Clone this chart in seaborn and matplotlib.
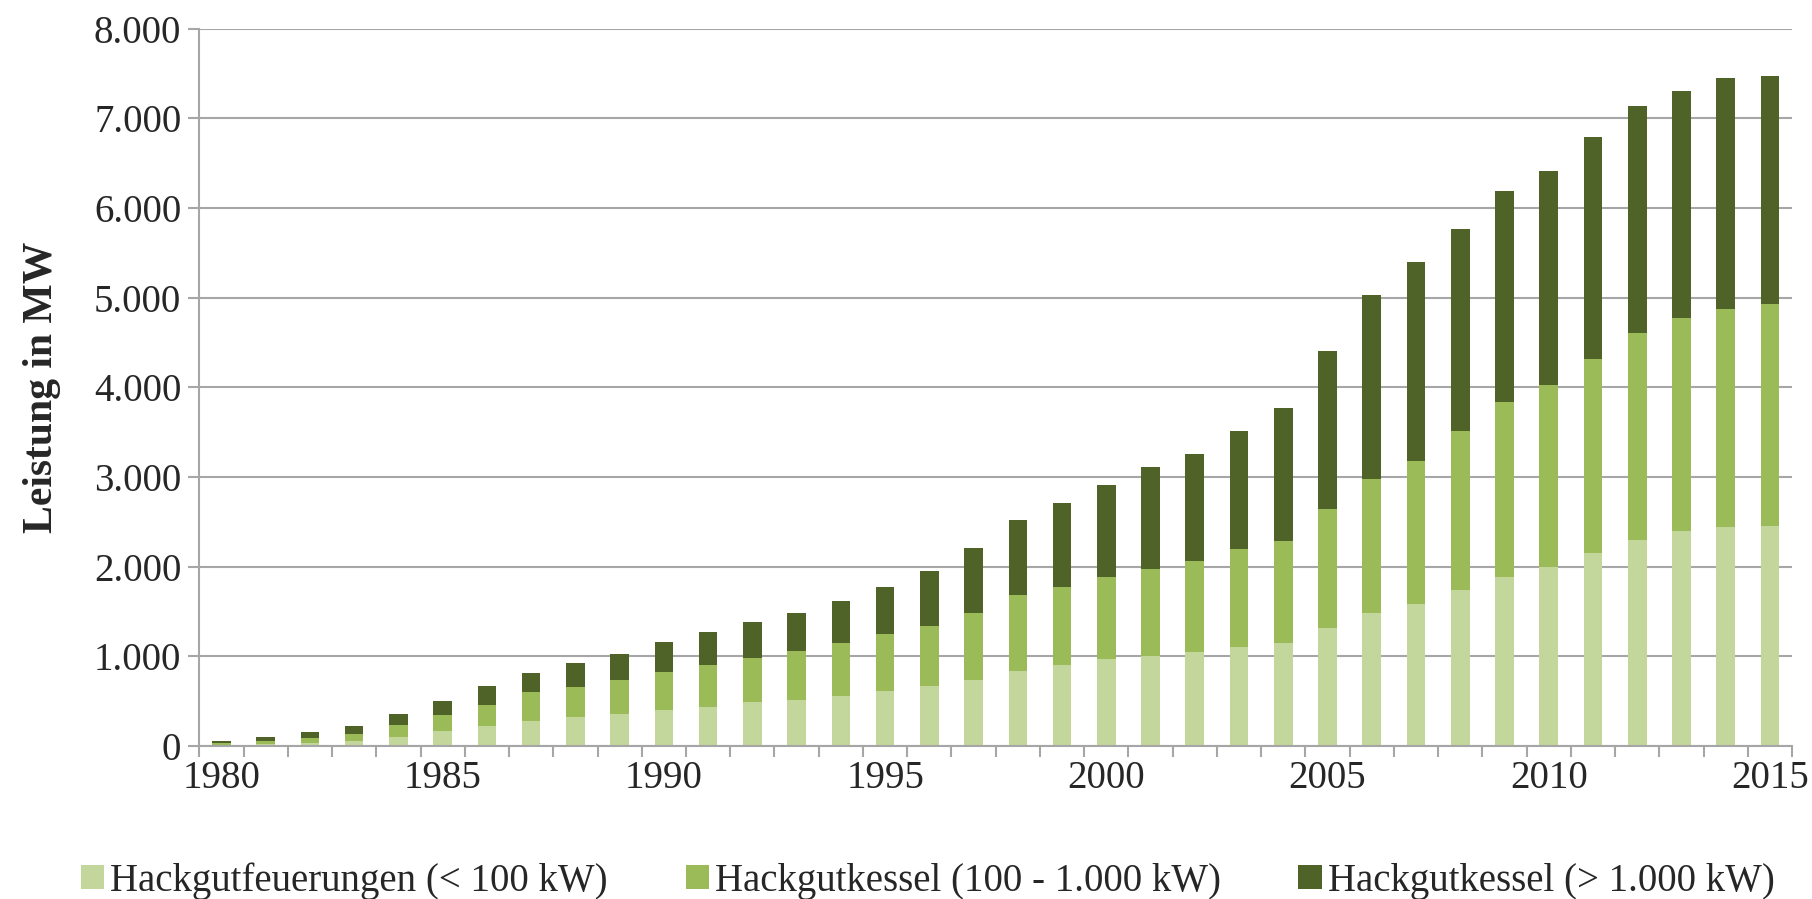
import numpy as np
import pandas as pd
import matplotlib
matplotlib.use("Agg")
import matplotlib.pyplot as plt
import seaborn as sns

# ------------------------------------------------------
# Data (MW)
# ------------------------------------------------------
years = list(range(1980, 2016))

small_lt100 = [10, 20, 35, 55, 100, 170, 220, 280, 320, 360, 400, 440, 490, 515, 555, 610,
               670, 740, 840, 900, 970, 1005, 1050, 1110, 1150, 1320, 1480, 1590, 1740, 1890,
               2000, 2150, 2300, 2400, 2440, 2460]
mid_100_1000 = [20, 35, 55, 85, 140, 180, 240, 320, 340, 380, 430, 470, 495, 545, 595, 645,
                670, 750, 850, 880, 920, 970, 1020, 1090, 1140, 1330, 1495, 1585, 1770, 1950,
                2030, 2170, 2310, 2370, 2440, 2470]
large_gt1000 = [25, 45, 70, 90, 120, 150, 210, 220, 270, 290, 330, 365, 405, 420, 470, 515,
                610, 720, 830, 930, 1020, 1135, 1190, 1310, 1480, 1760, 2055, 2225, 2260, 2350,
                2380, 2470, 2530, 2540, 2570, 2540]

labels = ["Hackgutfeuerungen (< 100 kW)",
          "Hackgutkessel (100 - 1.000 kW)",
          "Hackgutkessel (> 1.000 kW)"]
colors = ["#C3D69B", "#9BBB59", "#4F6228"]

y_ticks = [0, 1000, 2000, 3000, 4000, 5000, 6000, 7000, 8000]
x_ticks = [1980, 1985, 1990, 1995, 2000, 2005, 2010, 2015]

# ------------------------------------------------------
# Plot
# ------------------------------------------------------
sns.set_theme(style="white")
plt.rcParams["font.family"] = ["Liberation Serif", "DejaVu Serif"]

df = pd.DataFrame({"year": years, "s1": small_lt100, "s2": mid_100_1000, "s3": large_gt1000})
bottom2 = df["s1"].values
bottom3 = df["s1"].values + df["s2"].values

fig = plt.figure(figsize=(18.12, 8.99), dpi=100)
ax = fig.add_axes([0.110, 0.170, 0.879, 0.798])

for col, bottom, color, label in [("s1", None, colors[0], labels[0]),
                                  ("s2", bottom2, colors[1], labels[1]),
                                  ("s3", bottom3, colors[2], labels[2])]:
    kw = {} if bottom is None else {"bottom": bottom}
    sns.barplot(data=df, x="year", y=col, native_scale=True, color=color,
                width=0.42, saturation=1, label=label, ax=ax, linewidth=0, **kw)

grey = "#A6A6A6"
ax.set_xlim(1979.5, 2015.5)
ax.set_ylim(0, 8000)
ax.set_yticks(y_ticks)
ax.set_yticklabels([f"{v:,}".replace(",", ".") for v in y_ticks])
ax.set_xticks(x_ticks)
ax.set_xticklabels([str(v) for v in x_ticks])
# tick marks between the categories, like the original
ax.set_xticks([y - 0.5 for y in years] + [years[-1] + 0.5], minor=True)

ax.yaxis.grid(True, color=grey, linewidth=1.5)
ax.set_axisbelow(True)
for s in ["top", "right"]:
    ax.spines[s].set_visible(False)
for s in ["left", "bottom"]:
    ax.spines[s].set_color(grey)
    ax.spines[s].set_linewidth(1.5)

ax.tick_params(axis="y", length=8, width=1.5, color=grey, labelsize=28, pad=5, left=True)
ax.tick_params(axis="x", which="major", length=0, labelsize=28, pad=10)
ax.tick_params(axis="x", which="minor", length=8, width=1.5, color=grey, bottom=True)

ax.set_xlabel("")
ax.set_ylabel("Leistung in MW", fontsize=30, fontweight="bold", labelpad=24)

handles, lbls = ax.get_legend_handles_labels()
ax.legend(handles, lbls, loc="center", bbox_to_anchor=(0.512, 0.02),
          bbox_transform=fig.transFigure, ncol=3, frameon=False, fontsize=28,
          handlelength=0.6, handleheight=0.6, handletextpad=0.15, columnspacing=2.0,
          borderpad=0)

fig.savefig("out.png", dpi=100)
